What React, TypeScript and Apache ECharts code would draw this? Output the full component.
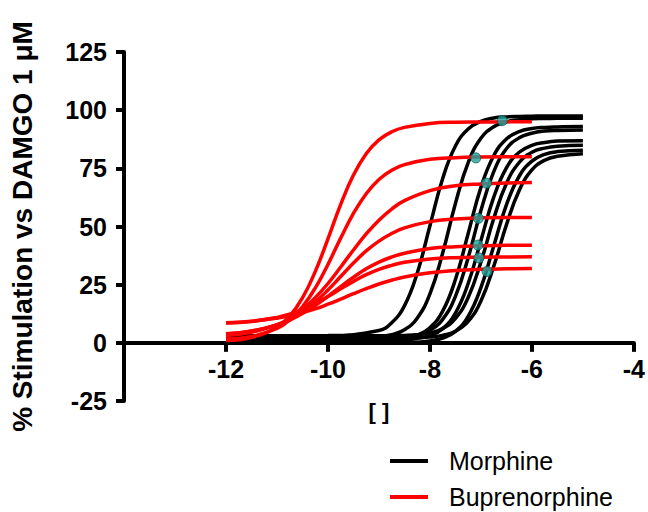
import React, { useEffect, useRef } from "react";
import * as echarts from "echarts";

// log concentration grids
const morphineX = [-12, -11, -10, -9, -8.75, -8.5, -8.25, -8, -7.75, -7.5, -7.25, -7, -6.75, -6.5, -6.25, -6, -5.75, -5.5, -5];
const buprenorphineX = [-12, -11.5, -11, -10.75, -10.5, -10.25, -10, -9.75, -9.5, -9.25, -9, -8.75, -8.5, -8, -7.5, -7, -6.5, -6];

// Morphine curves (% stimulation)
const morphine1 = [3, 3, 3.1, 5.3, 8.6, 15.9, 29.9, 50.3, 70.6, 84.6, 91.9, 95.2, 96.6, 97.1, 97.3, 97.4, 97.5, 97.5, 97.5];
const morphine2 = [2, 2, 2, 2.6, 3.5, 5.6, 10.6, 21.0, 38.6, 59.9, 77.5, 87.9, 92.9, 95.0, 95.9, 96.3, 96.4, 96.5, 96.5];
const morphine3 = [1, 1, 1, 1.1, 1.4, 1.9, 3.3, 6.5, 13.6, 27.2, 47, 66.8, 80.4, 87.6, 90.8, 92.1, 92.6, 92.8, 93];
const morphine4 = [2, 2, 2, 2.1, 2.2, 2.6, 3.4, 5.4, 10.1, 20.0, 36.6, 56.9, 73.5, 83.4, 88.1, 90.1, 91.0, 91.3, 91.5];
const morphine5 = [1, 1, 1, 1.1, 1.1, 1.3, 1.9, 3.1, 6.1, 12.8, 25.5, 44, 62.5, 75.2, 81.9, 84.9, 86.1, 86.7, 86.9];
const morphine6 = [3, 3, 3, 3, 3.1, 3.2, 3.5, 4.3, 6.1, 10.5, 19.5, 34.7, 53.3, 68.5, 77.5, 81.9, 83.7, 84.5, 84.9];
const morphine7 = [0, 0, 0, 0, 0.1, 0.1, 0.3, 0.8, 2.0, 4.9, 11.4, 23.7, 41.5, 59.3, 71.6, 78.1, 81.0, 82.2, 82.8];
const morphine8 = [2, 2, 2, 2, 2, 2.1, 2.2, 2.5, 3.2, 5.0, 9.2, 18.0, 32.8, 50.7, 65.5, 74.3, 78.5, 80.2, 81.3];

// Buprenorphine curves (% stimulation)
const bup1 = [1.0, 2.3, 6.7, 11.5, 19.3, 30.6, 44.7, 59.5, 72.1, 81.3, 87.2, 90.7, 92.6, 94.3, 94.8, 94.9, 95.0, 95.0];
const bup2 = [1.6, 2.7, 6.2, 9.8, 15.5, 23.5, 33.7, 45.0, 55.6, 64.1, 70.2, 74.2, 76.6, 78.9, 79.6, 79.9, 80.0, 80.0];
const bup3 = [3.1, 4.5, 7.8, 10.5, 14.3, 19.4, 25.5, 32.6, 39.9, 46.8, 52.7, 57.5, 61.1, 65.4, 67.5, 68.3, 68.7, 68.9];
const bup4 = [3.8, 5.0, 7.6, 10.0, 13.3, 17.5, 22.7, 28.5, 34.3, 39.5, 43.7, 47.0, 49.4, 52.1, 53.2, 53.7, 53.9, 53.9];
const bup5 = [3.9, 5.1, 7.7, 9.8, 12.6, 16.0, 20.0, 24.2, 28.2, 31.8, 34.7, 36.9, 38.5, 40.5, 41.3, 41.7, 41.9, 41.9];
const bup6 = [8.5, 9.2, 10.9, 12.3, 14.3, 16.8, 19.9, 23.2, 26.4, 29.3, 31.6, 33.3, 34.6, 36.0, 36.6, 36.8, 36.9, 37.0];
const bup7 = [8.6, 9.3, 10.6, 11.6, 13.0, 14.6, 16.6, 18.8, 21.1, 23.3, 25.3, 26.9, 28.3, 30.1, 31.1, 31.6, 31.8, 31.9];

// marker points
const dotX = [-6.58, -7.1, -6.89, -7.05, -7.06, -7.04, -6.88];
const dotY = [95.5, 79.5, 68.6, 53.5, 42, 36.5, 30.7];

const xTicks = { min: -14, max: -4, interval: 2 };
const yTicks = { min: -25, max: 125, interval: 25 };
const legendItems = [
  { name: "Morphine", color: "#000000" },
  { name: "Buprenorphine", color: "#ff0000" },
];

const FONT = "'Liberation Sans', Arial, sans-serif";

const morphineCurves = [morphine1, morphine2, morphine3, morphine4, morphine5, morphine6, morphine7, morphine8];
const bupCurves = [bup1, bup2, bup3, bup4, bup5, bup6, bup7];

const GRID = { left: 116, right: 12, top: 52, bottom: 111 };

export default function App() {
  const ref = useRef<HTMLDivElement>(null);
  useEffect(() => {
    if (!ref.current) return;
    const chart = echarts.init(ref.current, null, { renderer: "svg" });
    const lineSeries = (name: string, xs: number[], ys: number[], color: string) => ({
      type: "line",
      name,
      data: xs.map((x, i) => [x, ys[i]]),
      smooth: 0.45,
      showSymbol: false,
      symbol: "none",
      lineStyle: { color, width: 3.5 },
      itemStyle: { color },
      silent: true,
    });
    const series: any[] = [
      ...morphineCurves.map((c) => lineSeries("Morphine", morphineX, c, "#000000")),
      ...bupCurves.map((c) => lineSeries("Buprenorphine", buprenorphineX, c, "#ff0000")),
      {
        type: "scatter",
        name: "points",
        data: dotX.map((x, i) => [x, dotY[i]]),
        symbolSize: 10,
        itemStyle: { color: "#1fa39c", borderColor: "#0c5a55", borderWidth: 1 },
        z: 5,
      },
    ];
    const plotH = 512 - GRID.top - GRID.bottom;
    const zeroOffset = -plotH * (0 - yTicks.min) / (yTicks.max - yTicks.min);
    const legendGraphics: any[] = [];
    legendItems.forEach((it, i) => {
      const cy = 461 + i * 36;
      legendGraphics.push({
        type: "line",
        shape: { x1: 390, y1: cy, x2: 428, y2: cy },
        style: { stroke: it.color, lineWidth: 4 },
        silent: true,
      });
      legendGraphics.push({
        type: "text",
        x: 449,
        y: cy,
        style: {
          text: it.name,
          fill: "#000",
          font: `25px ${FONT}`,
          verticalAlign: "middle",
          align: "left",
        },
        silent: true,
      });
    });
    chart.setOption({
      animation: false,
      backgroundColor: "#ffffff",
      grid: { ...GRID, containLabel: false },
      graphic: legendGraphics,
      xAxis: {
        type: "value",
        min: xTicks.min,
        max: xTicks.max,
        interval: xTicks.interval,
        offset: zeroOffset,
        name: "[ ]",
        nameLocation: "middle",
        nameGap: 58,
        nameTextStyle: { fontFamily: FONT, fontSize: 22, fontWeight: "bold", color: "#000" },
        axisLine: { onZero: false, lineStyle: { color: "#000", width: 4 } },
        axisTick: { show: true, length: 9, lineStyle: { color: "#000", width: 4 } },
        axisLabel: {
          showMinLabel: false,
          margin: 14,
          fontFamily: FONT,
          fontSize: 25,
          fontWeight: "bold",
          color: "#000",
        },
        splitLine: { show: false },
      },
      yAxis: {
        type: "value",
        min: yTicks.min,
        max: yTicks.max,
        interval: yTicks.interval,
        name: "% Stimulation vs DAMGO 1 μM",
        nameLocation: "middle",
        nameRotate: 90,
        nameGap: 88,
        nameTextStyle: { fontFamily: FONT, fontSize: 28, fontWeight: "bold", color: "#000" },
        axisLine: { onZero: false, lineStyle: { color: "#000", width: 4 } },
        axisTick: { show: true, length: 8, lineStyle: { color: "#000", width: 4 } },
        axisLabel: {
          margin: 17,
          fontFamily: FONT,
          fontSize: 25,
          fontWeight: "bold",
          color: "#000",
        },
        splitLine: { show: false },
      },
      series,
    });
    return () => chart.dispose();
  }, []);
  return <div ref={ref} style={{ width: 648, height: 512, position: "absolute", left: 0, top: 0 }} />;
}
